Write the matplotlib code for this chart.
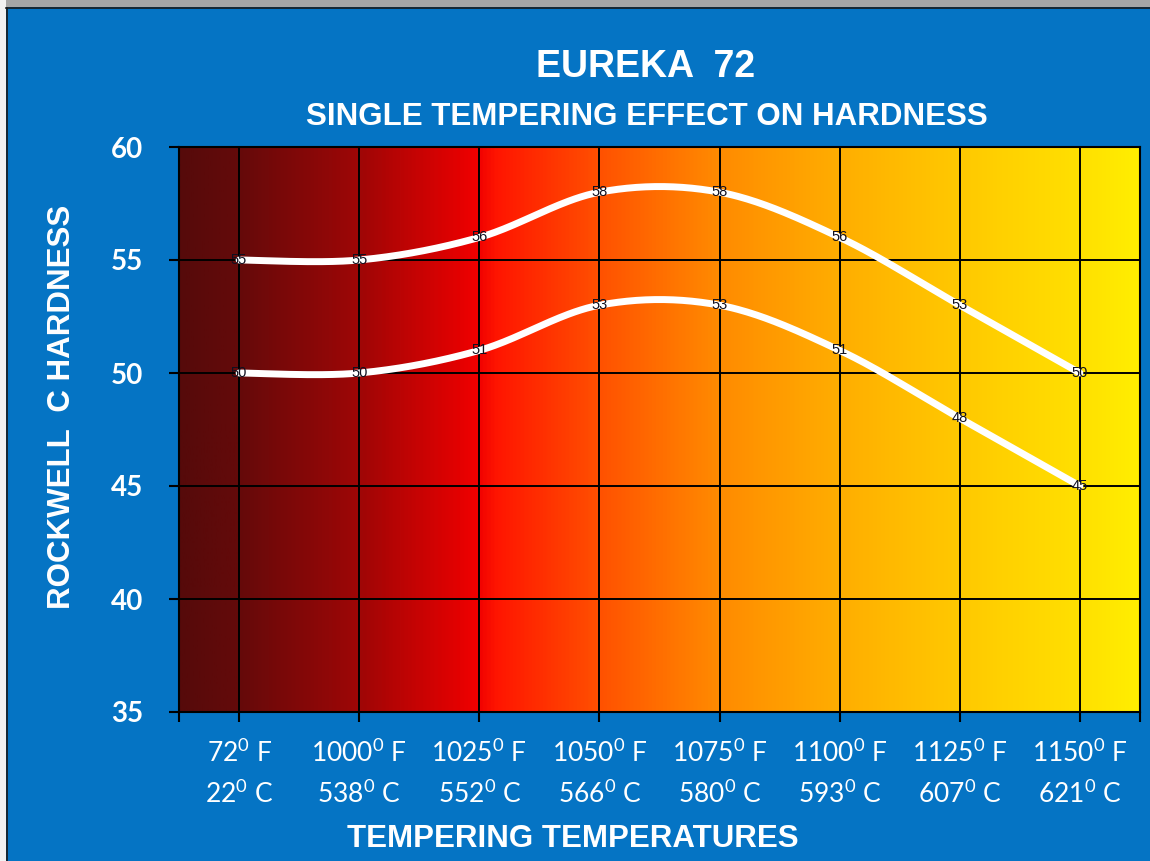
import numpy as np
import matplotlib.pyplot as plt
from matplotlib.colors import LinearSegmentedColormap
from matplotlib.patches import Rectangle

plt.rcParams['figure.dpi'] = 100

# data
temps_f = ['72', '1000', '1025', '1050', '1075', '1100', '1125', '1150']
temps_c = ['22', '538', '552', '566', '580', '593', '607', '621']
upper = [55, 55, 56, 58, 58, 56, 53, 50]
lower = [50, 50, 51, 53, 53, 51, 48, 45]

BLUE = '#0574C4'
SANS = ['Liberation Sans', 'DejaVu Sans']
CAL = ['Lato', 'DejaVu Sans']


def smooth(y, n=40):
    # excel style smoothed line (bezier through the points)
    x = np.arange(len(y), dtype=float)
    y = np.asarray(y, dtype=float)
    px = np.concatenate([[x[0]], x, [x[-1]]])
    py = np.concatenate([[y[0]], y, [y[-1]]])
    xs, ys = [], []
    t = np.linspace(0, 1, n)
    for i in range(len(y) - 1):
        p0 = np.array([x[i], y[i]])
        p3 = np.array([x[i + 1], y[i + 1]])
        p1 = p0 + (np.array([px[i + 2], py[i + 2]]) - np.array([px[i], py[i]])) / 6
        p2 = p3 - (np.array([px[i + 3], py[i + 3]]) - np.array([px[i + 1], py[i + 1]])) / 6
        b = ((1 - t) ** 3)[:, None] * p0 + (3 * (1 - t) ** 2 * t)[:, None] * p1 \
            + (3 * (1 - t) * t ** 2)[:, None] * p2 + (t ** 3)[:, None] * p3
        xs.append(b[:, 0])
        ys.append(b[:, 1])
    return np.concatenate(xs), np.concatenate(ys)


fig = plt.figure(figsize=(11.5, 8.61), facecolor=BLUE)
ax = fig.add_axes([179 / 1150, 1 - 712 / 861, 961 / 1150, 565 / 861])

# frame around the picture
fig.patches.append(Rectangle((0, 1 - 7 / 861), 1, 7 / 861, transform=fig.transFigure,
                             facecolor='#A6A6A6', edgecolor='none', zorder=0))
fig.patches.append(Rectangle((0, 0), 6 / 1150, 1, transform=fig.transFigure,
                             facecolor='#F2F2F2', edgecolor='none', zorder=0))
fig.lines.append(plt.Line2D([6 / 1150, 1], [1 - 8 / 861, 1 - 8 / 861], transform=fig.transFigure,
                            color='#1a1a1a', lw=1.2))
fig.lines.append(plt.Line2D([6.5 / 1150, 6.5 / 1150], [0, 1 - 8 / 861], transform=fig.transFigure,
                            color='#1a1a1a', lw=1.2))

# gradient plot area
stops = [(0.0, '#560A0A'), (0.06, '#640A0A'), (0.19, '#A00606'), (0.31, '#F00000'),
         (0.33, '#FF1500'), (0.44, '#FF5200'), (0.56, '#FF8A00'), (0.69, '#FFAE00'),
         (0.81, '#FFC800'), (0.94, '#FFE000'), (1.0, '#FFEE00')]
cmap = LinearSegmentedColormap.from_list('heat', stops)
grad = np.linspace(0, 1, 512)[None, :]
ax.imshow(grad, cmap=cmap, aspect='auto', extent=[-0.5, 7.5, 35, 60], zorder=0)

x = np.arange(len(temps_f))
for s in (upper, lower):
    sx, sy = smooth(s)
    ax.plot(sx, sy, color='white', lw=5, solid_capstyle='round', zorder=3)
    for xi, v in zip(x, s):
        ax.text(xi, v, str(v), ha='center', va='center', fontsize=10.5,
                color='#101020', family=SANS, zorder=4)

ax.set_xlim(-0.5, 7.5)
ax.set_ylim(35, 60)
ax.set_yticks(range(35, 61, 5))
ax.set_xticks(x)
ax.set_xticks([-0.5, 7.5], minor=True)
ax.set_xticklabels([f'{f}$^{{\\mathregular{{0}}}}$ F\n{c}$^{{\\mathregular{{0}}}}$ C'
                    for f, c in zip(temps_f, temps_c)],
                   family=CAL, fontsize=19, color='white', linespacing=1.55)
ax.set_yticklabels([str(v) for v in range(35, 61, 5)], family=CAL, fontsize=20,
                   fontweight='bold', color='white')
ax.tick_params(axis='x', which='both', length=7, width=1.5, color='black', pad=12)
ax.tick_params(axis='y', length=7, width=1.5, color='black', pad=19)
ax.grid(True, color='black', lw=1.4, zorder=2)
ax.set_axisbelow(False)
for sp in ax.spines.values():
    sp.set_color('black')
    sp.set_linewidth(1.5)

fig.text(646 / 1150, 1 - 67 / 861, 'EUREKA  72', ha='center', va='center', color='white',
         fontsize=27, fontweight='bold', family=SANS)
fig.text(647 / 1150, 1 - 117 / 861, 'SINGLE TEMPERING EFFECT ON HARDNESS', ha='center',
         va='center', color='white', fontsize=22.5, fontweight='bold', family=SANS)
fig.text(62 / 1150, 1 - 407 / 861, 'ROCKWELL  C HARDNESS', ha='center', va='center',
         rotation=90, color='white', fontsize=22.5, fontweight='bold', family=SANS)
fig.text(573 / 1150, 1 - 839 / 861, 'TEMPERING TEMPERATURES', ha='center', va='center',
         color='white', fontsize=22.5, fontweight='bold', family=SANS)

plt.savefig('out.png', facecolor=BLUE)
